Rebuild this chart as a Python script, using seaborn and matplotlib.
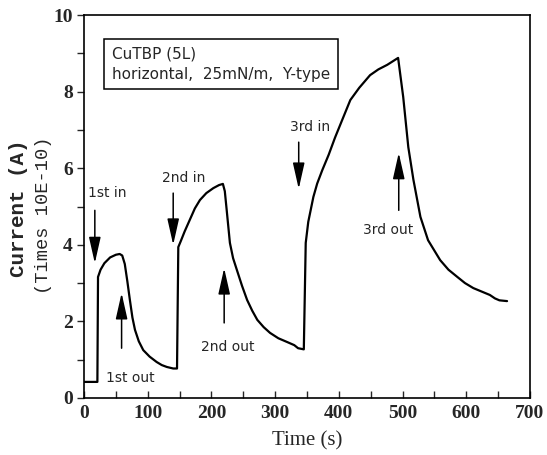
import pandas as pd
import matplotlib
matplotlib.use('Agg')
import matplotlib.pyplot as plt
import seaborn as sns
from matplotlib.ticker import MultipleLocator

# Values
time_s = [0, 21, 22, 26, 32, 41, 50, 56, 60, 64, 68, 72, 76, 80, 86, 93, 103, 114, 122, 130, 140, 146,
          148, 152, 158, 166, 174, 182, 192, 203, 212, 218, 221, 224, 229, 234, 240, 248, 256, 264,
          272, 282, 292, 305, 319, 330, 336, 345,
          348, 352, 360, 366, 374, 384, 394, 405, 418, 432, 449, 462, 476, 493, 501, 509, 517, 528,
          540, 559, 572, 586, 598, 611, 624, 637, 645, 652, 664]
current = [0.42, 0.42, 3.16, 3.35, 3.52, 3.67, 3.74, 3.76, 3.72, 3.5, 3.05, 2.56, 2.1, 1.78, 1.48, 1.25,
           1.08, 0.94, 0.86, 0.81, 0.77, 0.77,
           3.94, 4.1, 4.35, 4.65, 4.95, 5.17, 5.35, 5.48, 5.56, 5.59, 5.4, 4.9, 4.05, 3.65, 3.34, 2.93,
           2.56, 2.28, 2.04, 1.85, 1.7, 1.56, 1.46, 1.38, 1.3, 1.27,
           4.05, 4.6, 5.25, 5.6, 5.95, 6.35, 6.8, 7.25, 7.78, 8.1, 8.43, 8.58, 8.7, 8.88, 7.86, 6.55,
           5.7, 4.73, 4.12, 3.6, 3.35, 3.16, 3.0, 2.87, 2.78, 2.69, 2.6, 2.55, 2.53]

# annotations: label, text position, arrow tail, arrow tip
labels = ['1st in', '2nd in', '3rd in', '1st out', '2nd out', '3rd out']
text_pos = [(6, 5.35), (122, 5.74), (323, 7.08), (34, 0.52), (184, 1.33), (438, 4.39)]
arrow_tail = [(17, 4.9), (140, 5.35), (337, 6.68), (59, 1.3), (220, 1.96), (494, 4.9)]
arrow_tip = [(17, 3.52), (140, 4.0), (337, 5.46), (59, 2.74), (220, 3.39), (494, 6.4)]

df = pd.DataFrame({'Time (s)': time_s, 'Current': current})

sns.set_style('ticks')
plt.rcParams['font.family'] = ['DejaVu Sans']

fig = plt.figure(figsize=(5.47, 4.55), dpi=100)
ax = fig.add_axes([84 / 547, 0.1253, 446 / 547, 0.8417])

sns.lineplot(data=df, x='Time (s)', y='Current', color='black', linewidth=1.6,
             sort=False, estimator=None, ax=ax)

ax.set_xlim(0, 700)
ax.set_ylim(0, 10)
ax.xaxis.set_major_locator(MultipleLocator(100))
ax.xaxis.set_minor_locator(MultipleLocator(50))
ax.yaxis.set_major_locator(MultipleLocator(2))
ax.yaxis.set_minor_locator(MultipleLocator(1))
ax.tick_params(axis='x', which='both', direction='in', length=5, width=1, pad=5)
ax.tick_params(axis='y', which='both', direction='out', length=5, width=1, pad=3)
for lab in ax.get_xticklabels() + ax.get_yticklabels():
    lab.set_family('Liberation Serif')
    lab.set_weight('bold')
    lab.set_size(14)
for sp in ax.spines.values():
    sp.set_linewidth(1.2)
    sp.set_color('black')

ax.set_xlabel('Time (s)', family='Liberation Serif', size=15, labelpad=7)
ax.set_ylabel('')
fig.text(0.033, 0.543, 'Current (A)', rotation=90, ha='center', va='center',
         family='Liberation Mono', weight='bold', size=15)
fig.text(0.079, 0.527, '(Times 10E-10)', rotation=90, ha='center', va='center',
         family='Liberation Mono', size=13.5)

ax.text(44, 8.72, 'CuTBP (5L)\nhorizontal,  25mN/m,  Y-type', ha='left', va='center',
        size=11, linespacing=1.45,
        bbox=dict(boxstyle='square,pad=0.5', fc='white', ec='black', lw=1.1))

for lab, tp, tail, tip in zip(labels, text_pos, arrow_tail, arrow_tip):
    ax.text(tp[0], tp[1], lab, ha='left', va='center', size=10)
    ax.annotate('', xy=tip, xytext=tail,
                arrowprops=dict(arrowstyle='-|>,head_length=0.8,head_width=0.18',
                                color='black', lw=1.1, mutation_scale=20,
                                shrinkA=0, shrinkB=0))

fig.savefig('out.png', dpi=100)
